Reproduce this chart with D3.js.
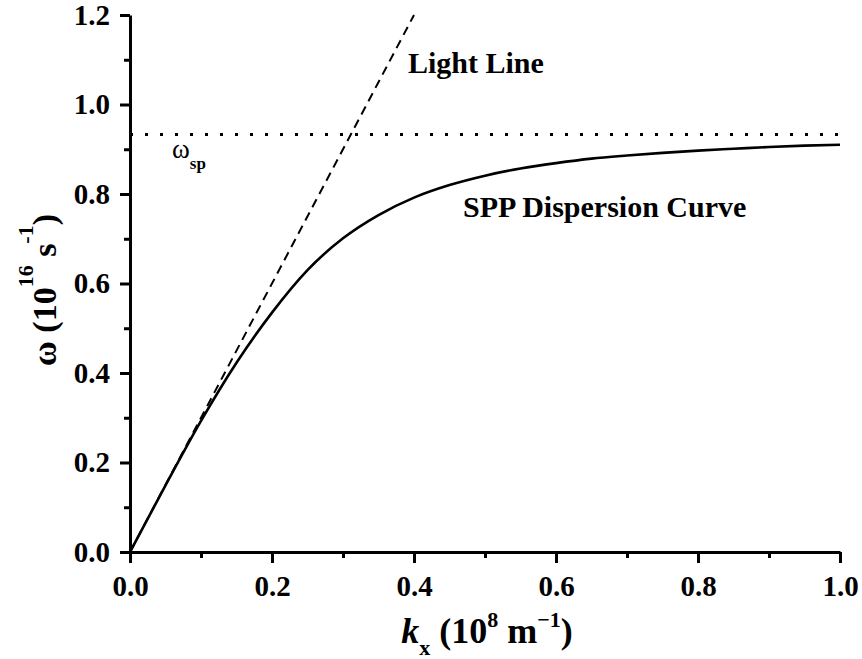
<!DOCTYPE html>
<html>
<head>
<meta charset="utf-8">
<script src="https://cdn.jsdelivr.net/npm/d3@7"></script>
<style>
body { margin: 0; background: #fff; }
text { font-family: "Liberation Serif", "Times New Roman", serif; fill: #000; }
.axis text { font-size: 29px; font-weight: bold; }
.axis path, .axis line { stroke: #000; stroke-width: 3; }
</style>
</head>
<body>
<div id="chart"></div>
<script>
// values (k in 1e8 m^-1, omega in 1e16 s^-1)
var kValues = [0, 0.05, 0.1, 0.15, 0.2, 0.25, 0.3, 0.35, 0.4, 0.45, 0.5,
               0.55, 0.6, 0.65, 0.7, 0.75, 0.8, 0.85, 0.9, 0.95, 1.0];
var omegaValues = [0, 0.149, 0.293, 0.423, 0.535, 0.630, 0.701, 0.753, 0.792, 0.820, 0.841,
                   0.857, 0.869, 0.879, 0.886, 0.892, 0.897, 0.901, 0.905, 0.908, 0.910];

var lightLineK = [0, 0.4];
var lightLineOmega = [0, 1.2];

var omegaSp = 0.933;

var xTickValues = [0, 0.2, 0.4, 0.6, 0.8, 1.0];
var xMinorTicks = [0.1, 0.3, 0.5, 0.7, 0.9];
var yTickValues = [0, 0.2, 0.4, 0.6, 0.8, 1.0, 1.2];
var yMinorTicks = [0.1, 0.3, 0.5, 0.7, 0.9, 1.1];

// size
var margin = {top: 15, right: 22, bottom: 107, left: 130},
    width = 862 - margin.left - margin.right,
    height = 659 - margin.top - margin.bottom;

var xScale = d3.scaleLinear().domain([0, 1.0]).range([0, width]);
var yScale = d3.scaleLinear().domain([0, 1.2]).range([height, 0]);

var root = d3.select("#chart").append("svg")
  .attr("width", 862)
  .attr("height", 659);

var svg = root.append("g")
  .attr("transform", "translate(" + margin.left + "," + margin.top + ")");

var fmt = d3.format(".1f");

// minor ticks first, then major axes on top
svg.append("g")
  .attr("class", "axis")
  .attr("transform", "translate(0," + height + ")")
  .call(d3.axisBottom(xScale).tickValues(xMinorTicks).tickSize(6).tickFormat(""))
  .call(function(g) { g.select(".domain").remove(); });

svg.append("g")
  .attr("class", "axis")
  .call(d3.axisLeft(yScale).tickValues(yMinorTicks).tickSize(6).tickFormat(""))
  .call(function(g) { g.select(".domain").remove(); });

svg.append("g")
  .attr("class", "axis")
  .attr("transform", "translate(0," + height + ")")
  .call(d3.axisBottom(xScale).tickValues(xTickValues).tickSize(11).tickSizeOuter(0)
        .tickPadding(12).tickFormat(fmt));

svg.append("g")
  .attr("class", "axis")
  .call(d3.axisLeft(yScale).tickValues(yTickValues).tickSize(10).tickSizeOuter(0)
        .tickPadding(10).tickFormat(fmt));

// omega_sp dotted line
svg.append("line")
  .attr("x1", xScale(0))
  .attr("x2", xScale(1.0))
  .attr("y1", yScale(omegaSp))
  .attr("y2", yScale(omegaSp))
  .attr("stroke", "#000")
  .attr("stroke-width", 3)
  .attr("stroke-dasharray", "3,12")
  .attr("stroke-dashoffset", -15);

// light line
var line = d3.line()
  .x(function(d) { return xScale(d[0]); })
  .y(function(d) { return yScale(d[1]); });

svg.append("path")
  .datum(d3.zip(lightLineK, lightLineOmega))
  .attr("d", line)
  .attr("fill", "none")
  .attr("stroke", "#000")
  .attr("stroke-width", 2)
  .attr("stroke-dasharray", "9,6");

// SPP dispersion curve
svg.append("path")
  .datum(d3.zip(kValues, omegaValues))
  .attr("d", line.curve(d3.curveMonotoneX))
  .attr("fill", "none")
  .attr("stroke", "#000")
  .attr("stroke-width", 2.6);

// annotations (page coordinates)
root.append("text")
  .attr("x", 408).attr("y", 73)
  .style("font-size", "30px").style("font-weight", "bold")
  .text("Light Line");

root.append("text")
  .attr("x", 463).attr("y", 217)
  .style("font-size", "30px").style("font-weight", "bold")
  .text("SPP Dispersion Curve");

var wsp = root.append("text")
  .attr("x", 172).attr("y", 158)
  .style("font-size", "27px");
wsp.append("tspan").text("ω");
wsp.append("tspan").attr("dy", 11).style("font-size", "17px").style("font-weight", "bold").text("sp");

// x axis title
var xt = root.append("text")
  .attr("x", 487).attr("y", 643)
  .attr("text-anchor", "middle")
  .style("font-size", "36px").style("font-weight", "bold");
xt.append("tspan").style("font-style", "italic").text("k");
xt.append("tspan").attr("dy", 12).style("font-size", "22px").text("x");
xt.append("tspan").attr("dy", -12).text(" (10");
xt.append("tspan").attr("dy", -16).style("font-size", "22px").text("8");
xt.append("tspan").attr("dy", 16).text(" m");
xt.append("tspan").attr("dy", -16).style("font-size", "22px").text("−1");
xt.append("tspan").attr("dy", 16).text(")");

// y axis title
var yt = root.append("text")
  .attr("transform", "translate(56,290) rotate(-90)")
  .attr("text-anchor", "middle")
  .style("font-size", "34px").style("font-weight", "bold");
yt.append("tspan").text("ω (10");
yt.append("tspan").attr("dy", -23).style("font-size", "22px").text("16");
yt.append("tspan").attr("dy", 23).text(" s");
yt.append("tspan").attr("dy", -23).style("font-size", "22px").text("-1");
yt.append("tspan").attr("dy", 23).text(")");
</script>
</body>
</html>
